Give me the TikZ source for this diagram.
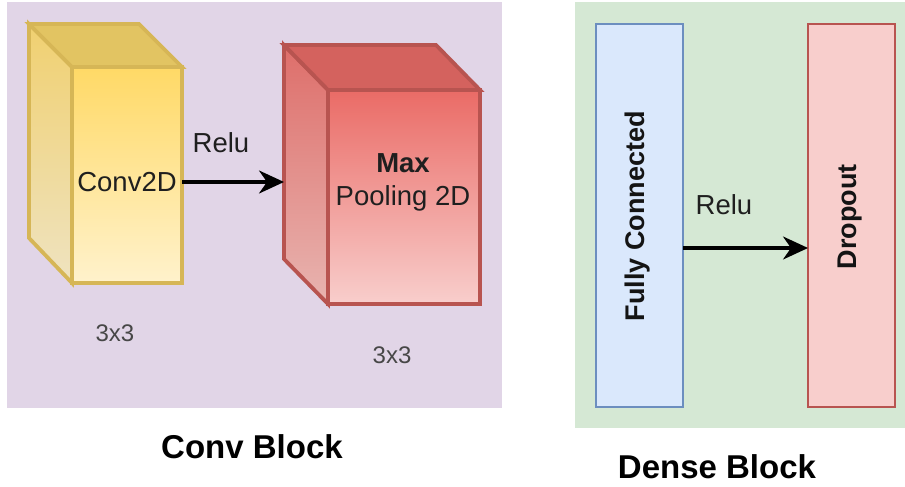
\documentclass[tikz,border=0pt]{standalone}
\usepackage{fontspec}
\setmainfont{Liberation Sans}
\usetikzlibrary{arrows.meta}
\definecolor{convbg}{HTML}{E1D5E7}
\definecolor{densebg}{HTML}{D5E8D4}
\definecolor{ystroke}{HTML}{D6B656}
\definecolor{ytop}{HTML}{FFD966}
\definecolor{ybot}{HTML}{FFF2CC}
\definecolor{yside1}{HTML}{F0D070}
\definecolor{yside2}{HTML}{EFE3C0}
\definecolor{ylid}{HTML}{E2C462}
\definecolor{rstroke}{HTML}{B85450}
\definecolor{rtop}{HTML}{EA6B66}
\definecolor{rbot}{HTML}{F8CECC}
\definecolor{rside1}{HTML}{DE6E6A}
\definecolor{rside2}{HTML}{E8B4B0}
\definecolor{rlid}{HTML}{D4625E}
\definecolor{fcfill}{HTML}{DAE8FC}
\definecolor{fcstroke}{HTML}{6C8EBF}
\begin{document}
\begin{tikzpicture}[x=1pt,y=-1pt,
  lbl/.style={font=\fontsize{27.5}{33}\selectfont, text=black!88, inner sep=0pt},
  blbl/.style={font=\bfseries\fontsize{27}{31}\selectfont, text=black!92, inner sep=0pt},
  dim/.style={font=\fontsize{24}{28}\selectfont, text=black!72, inner sep=0pt},
  ttl/.style={font=\bfseries\fontsize{33}{40}\selectfont, text=black, inner sep=0pt},
  face/.style={line width=3.8pt, line join=miter},
  frontface/.style={face, inner sep=0pt, outer sep=0pt},
  flow/.style={line width=3.2pt, -{Stealth[length=25pt,width=23pt,inset=8pt]}},
  layer/.style={line width=1.5pt, inner sep=0pt, outer sep=0pt, minimum width=87pt, minimum height=383pt},
  panel/.style={inner sep=0pt, outer sep=0pt, anchor=north west}]
\useasboundingbox (0,0) rectangle (905,487);
\fill[white] (0,0) rectangle (905,487);
% panels
\node[panel, fill=convbg, minimum width=495pt, minimum height=406pt] (convbox) at (7,2) {};
\node[panel, fill=densebg, minimum width=330pt, minimum height=426pt] (densebox) at (575,2) {};
% yellow cube
\node[frontface, draw=ystroke, top color=ytop, bottom color=ybot, minimum width=110pt, minimum height=216pt] (convf) at (127,175) {};
\draw[face, draw=ystroke, top color=yside1, bottom color=yside2]
  (convf.north west) -- ++(-43,-43) -- ++(0,214) -- (convf.south west) -- cycle;
\draw[face, draw=ystroke, fill=ylid]
  (convf.north west) -- ++(-43,-43) -- ++(110,0) -- (convf.north east) -- cycle;
% red cube
\node[frontface, draw=rstroke, top color=rtop, bottom color=rbot, minimum width=152pt, minimum height=214pt] (redf) at (404,197) {};
\draw[face, draw=rstroke, top color=rside1, bottom color=rside2]
  (redf.north west) -- ++(-44,-45) -- ++(0,214) -- (redf.south west) -- cycle;
\draw[face, draw=rstroke, fill=rlid]
  (redf.north west) -- ++(-44,-45) -- ++(152,0) -- (redf.north east) -- cycle;
\coordinate (redside) at ([xshift=-44pt]redf.west);
% conv labels
\node[lbl] (convt) at (127,182) {Conv2D};
\node[lbl] (relu1) at (221,143) {Relu};
\node[lbl, align=center] (redt) at (403,182) {\textbf{Max}\\Pooling 2D};
\draw[flow] (convf.east |- convt) -- (redside |- convt);
\node[dim] (k1) at (115,333) {3x3};
\node[dim] (k2) at (392,355) {3x3};
\node[ttl] (convtitle) at (252,447) {Conv Block};
% dense block
\node[layer, draw=fcstroke, fill=fcfill] (fc) at (639.5,215.5) {};
\node[layer, draw=rstroke, fill=rbot] (drop) at (851.5,215.5) {};
\node[blbl, rotate=90] (fct) at (638,216) {Fully Connected};
\node[blbl, rotate=90] (dropt) at (850,217) {Dropout};
\coordinate (dy) at (0,248);
\draw[flow] (fc.east |- dy) -- (drop.west |- dy);
\node[lbl] (relu2) at (724,205) {Relu};
\node[ttl] (densetitle) at (717,467) {Dense Block};
\end{tikzpicture}
\end{document}
